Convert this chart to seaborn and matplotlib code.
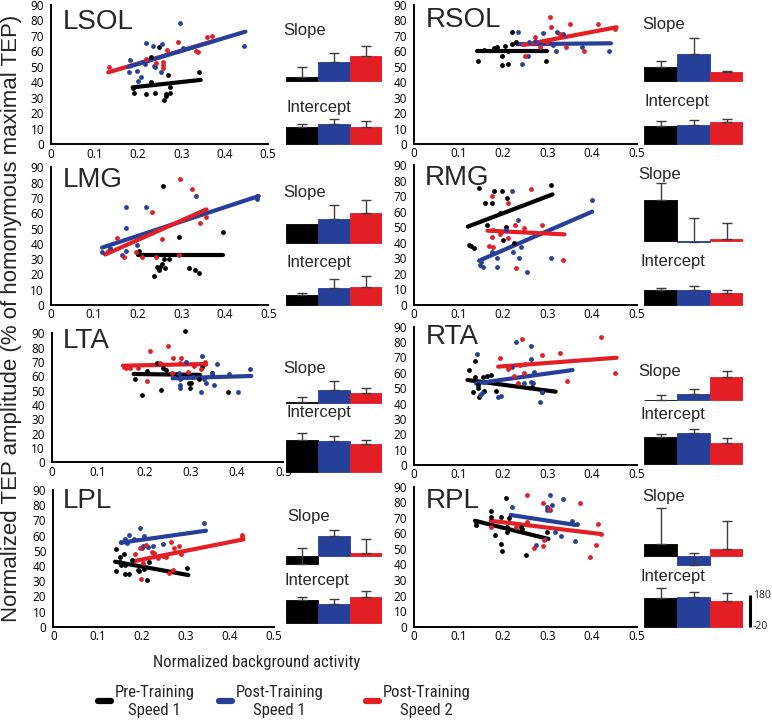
import numpy as np
import pandas as pd
import matplotlib
matplotlib.use('Agg')
import matplotlib.pyplot as plt
import seaborn as sns
from matplotlib import font_manager
from matplotlib.lines import Line2D

sns.set_style('white')
_names = {f.name for f in font_manager.fontManager.ttflist}
MAIN = 'Liberation Sans' if 'Liberation Sans' in _names else 'DejaVu Sans'
TICKF = 'Open Sans' if 'Open Sans' in _names else MAIN
NARROW = next((n for n in ['Liberation Sans Narrow', 'Roboto Condensed',
                           'Open Sans Condensed', 'Arial Narrow'] if n in _names), None)
plt.rcParams['font.family'] = [MAIN, 'DejaVu Sans']

# ---------------- data ----------------
GROUPS = ['Pre-Training Speed 1', 'Post-Training Speed 1', 'Post-Training Speed 2']
LEGEND_LABELS = ['Pre-Training\nSpeed 1', 'Post-Training\nSpeed 1', 'Post-Training\nSpeed 2']
COLORS = ['#000000', '#26409a', '#e41e25']
MUSCLES = ['LSOL', 'RSOL', 'LMG', 'RMG', 'LTA', 'RTA', 'LPL', 'RPL']
X_TICKS = [0, 0.1, 0.2, 0.3, 0.4, 0.5]
X_TICKLABELS = ['0', '0.1', '0.2', '0.3', '0.4', '0.5']
Y_TICKS = [0, 10, 20, 30, 40, 50, 60, 70, 80, 90]

LSOL_PRE = [(0.189, 36.2), (0.192, 33.4), (0.218, 32.3), (0.230, 56.2), (0.239, 32.9), (0.248, 63.1),
            (0.260, 28.6), (0.264, 31.2), (0.266, 32.3), (0.270, 44.8), (0.274, 33.4), (0.274, 36.8),
            (0.341, 46.5), (0.230, 40.5)]
LSOL_POST1 = [(0.182, 54.5), (0.180, 46.9), (0.199, 47.4), (0.201, 41.1), (0.207, 43.7), (0.220, 65.7),
              (0.234, 63.7), (0.237, 50.6), (0.239, 50.2), (0.255, 64.6), (0.254, 46.9), (0.297, 78.6),
              (0.303, 62.0), (0.445, 63.7), (0.217, 51.9)]
LSOL_POST2 = [(0.134, 50.2), (0.220, 54.9), (0.242, 52.8), (0.258, 53.4), (0.258, 51.2), (0.258, 49.1),
              (0.268, 60.9), (0.293, 66.1), (0.333, 60.5), (0.339, 59.9), (0.360, 69.6), (0.372, 70.2)]

RSOL_PRE = [(0.144, 54), (0.158, 61), (0.180, 62), (0.187, 63), (0.197, 57), (0.197, 51), (0.204, 63.5),
            (0.210, 52), (0.219, 65), (0.219, 72.4), (0.230, 66), (0.296, 54), (0.210, 60)]
RSOL_POST1 = [(0.234, 72.4), (0.242, 51.6), (0.255, 57), (0.259, 66), (0.272, 67), (0.283, 65),
              (0.313, 64), (0.318, 60), (0.320, 72.4), (0.334, 71), (0.377, 62.6), (0.438, 60.5),
              (0.290, 71.7)]
RSOL_POST2 = [(0.249, 57), (0.272, 69.5), (0.283, 63), (0.305, 82.5), (0.307, 75.6), (0.341, 63),
              (0.350, 77.8), (0.382, 60.5), (0.414, 77.8), (0.452, 74.3), (0.328, 71.3), (0.298, 66.3)]

LMG_PRE = [(0.202, 35.5), (0.237, 19), (0.245, 25), (0.251, 24.6), (0.255, 26.6), (0.260, 30),
           (0.263, 24), (0.272, 30), (0.258, 77.8), (0.295, 44.2), (0.318, 24), (0.332, 22.9),
           (0.341, 20.7), (0.395, 48), (0.248, 22.9)]
LMG_POST1 = [(0.119, 34.9), (0.137, 37.5), (0.172, 63.8), (0.174, 50.1), (0.172, 35.3), (0.164, 33),
             (0.198, 39.2), (0.218, 63.8), (0.333, 71.2), (0.475, 69), (0.475, 71)]
LMG_POST2 = [(0.131, 35.5), (0.152, 44), (0.168, 31.2), (0.195, 34.4), (0.210, 31.2), (0.233, 61),
             (0.241, 31.6), (0.256, 42.9), (0.297, 82.4), (0.325, 75.6), (0.343, 53.4), (0.356, 57.7),
             (0.295, 32.7)]

RMG_PRE = [(0.124, 38.6), (0.127, 37.9), (0.135, 36.9), (0.146, 75), (0.159, 65.4), (0.163, 51.4),
           (0.176, 65.8), (0.180, 73.3), (0.193, 59), (0.198, 73.3), (0.206, 50.4), (0.208, 69),
           (0.200, 41.8), (0.225, 39.6), (0.308, 77.1)]
RMG_POST1 = [(0.148, 25.7), (0.156, 24.2), (0.176, 34.3), (0.187, 30), (0.186, 24.2), (0.219, 73.5),
             (0.206, 48.2), (0.223, 34.3), (0.234, 54.6), (0.235, 30), (0.240, 37.5), (0.253, 21),
             (0.307, 30), (0.400, 67.5), (0.150, 27.9)]
RMG_POST2 = [(0.176, 70.3), (0.176, 43.5), (0.177, 48.2), (0.168, 37.9), (0.177, 37), (0.192, 45.6),
             (0.210, 65.4), (0.210, 42.9), (0.227, 51.2), (0.228, 23.6), (0.247, 49.3), (0.262, 74.6),
             (0.287, 51.2), (0.335, 28.9), (0.195, 46.7)]

LTA_PRE = [(0.179, 57.9), (0.195, 47), (0.205, 64), (0.228, 69.5), (0.237, 50.5), (0.240, 65.6),
           (0.246, 64.4), (0.270, 61.6), (0.287, 91.9), (0.297, 55.6), (0.298, 51.9), (0.300, 55.1),
           (0.318, 57.9), (0.324, 66.3), (0.346, 62), (0.380, 49.3)]
LTA_POST1 = [(0.274, 62), (0.276, 57.9), (0.277, 54), (0.277, 51.6), (0.290, 70.2), (0.325, 74.2),
             (0.323, 49.3), (0.328, 57.9), (0.333, 55.1), (0.346, 62), (0.350, 54), (0.357, 68.4),
             (0.382, 61.4), (0.403, 49.3), (0.428, 64.9), (0.306, 59.8)]
LTA_POST2 = [(0.157, 66.7), (0.161, 65.6), (0.169, 65.6), (0.187, 66), (0.212, 77.7), (0.205, 57),
             (0.234, 69.5), (0.251, 81), (0.261, 72.6), (0.259, 62.6), (0.280, 72.6), (0.295, 62.8),
             (0.308, 67.4), (0.323, 65), (0.330, 70.2), (0.330, 68.4), (0.277, 69)]

RTA_PRE = [(0.124, 61.8), (0.133, 47.7), (0.138, 67.7), (0.138, 57), (0.143, 49.9), (0.147, 44),
           (0.156, 57.5), (0.158, 48.4), (0.163, 57.9), (0.173, 58.6), (0.184, 48.4), (0.264, 51),
           (0.287, 47.7), (0.144, 52)]
RTA_POST1 = [(0.142, 72.2), (0.148, 45.6), (0.153, 46.6), (0.158, 54.2), (0.189, 44), (0.195, 44.9),
             (0.229, 80.3), (0.262, 77.7), (0.263, 68.8), (0.268, 53.1), (0.263, 53.8), (0.287, 47.7),
             (0.283, 41.2), (0.246, 53.1), (0.270, 60.7), (0.219, 64)]
RTA_POST2 = [(0.193, 69.8), (0.212, 62.5), (0.214, 63.6), (0.225, 57.9), (0.234, 53.6), (0.238, 65),
             (0.243, 81.8), (0.246, 59.7), (0.249, 65.5), (0.287, 71.6), (0.328, 73.1), (0.343, 54.9),
             (0.419, 83.1), (0.451, 60.1)]

LPL_PRE = [(0.142, 51.1), (0.143, 36.7), (0.150, 42.8), (0.151, 46.1), (0.154, 40.6), (0.161, 47.8),
           (0.162, 34.7), (0.171, 34.7), (0.178, 43.9), (0.192, 37.3), (0.195, 36.7), (0.206, 37.8),
           (0.213, 30.7), (0.217, 42.8), (0.302, 38.4), (0.162, 40.6)]
LPL_POST1 = [(0.153, 55.5), (0.162, 57.7), (0.172, 60.4), (0.182, 57.7), (0.196, 65.2), (0.200, 51.6),
             (0.206, 59.9), (0.204, 53.3), (0.215, 52.2), (0.225, 53.3), (0.249, 54.2), (0.342, 68),
             (0.166, 54.9)]
LPL_POST2 = [(0.185, 47.8), (0.196, 51.6), (0.198, 31.4), (0.204, 42.1), (0.210, 53.8), (0.223, 49.4),
             (0.228, 48.7), (0.238, 45), (0.249, 46.5), (0.255, 45.7), (0.266, 56), (0.274, 52),
             (0.272, 37.3), (0.284, 53.1), (0.290, 47.8), (0.261, 35.1), (0.427, 60.4), (0.428, 59.3)]

RPL_PRE = [(0.139, 65.4), (0.139, 67.5), (0.174, 74.4), (0.174, 70.3), (0.182, 58.9), (0.195, 70.7),
           (0.196, 52.9), (0.197, 48.6), (0.207, 82.5), (0.208, 61), (0.208, 64.3), (0.214, 70),
           (0.240, 64.3), (0.251, 46.1), (0.299, 61.1), (0.242, 62.6)]
RPL_POST1 = [(0.219, 76.7), (0.274, 52.5), (0.294, 56.1), (0.298, 75), (0.298, 77.1), (0.305, 84.6),
             (0.305, 75), (0.309, 78.2), (0.317, 61.1), (0.329, 58.3), (0.334, 81.9), (0.354, 67.9),
             (0.362, 55.3), (0.365, 65.8)]
RPL_POST2 = [(0.174, 63.9), (0.254, 84.6), (0.269, 50.8), (0.290, 79.3), (0.290, 52.1), (0.292, 55.7),
             (0.304, 75.4), (0.373, 79.7), (0.395, 45), (0.409, 52.5), (0.414, 65.8), (0.419, 59.6),
             (0.230, 64.3), (0.253, 67.5)]

# regression lines: (x start, y start, x end, y end) for pre, post1, post2
LSOL_FIT = [(0.188, 36.8, 0.345, 41.6), (0.178, 50.0, 0.448, 72.8), (0.132, 46.5, 0.372, 66.5)]
RSOL_FIT = [(0.142, 60.0, 0.298, 60.0), (0.232, 64.6, 0.442, 65.2), (0.245, 64.1, 0.455, 75.6)]
LMG_FIT = [(0.200, 33.0, 0.397, 33.0), (0.118, 37.5, 0.478, 71.2), (0.125, 33.0, 0.358, 62.5)]
RMG_FIT = [(0.121, 50.4, 0.311, 71.1), (0.146, 28.5, 0.400, 60.0), (0.165, 47.8, 0.338, 45.4)]
LTA_FIT = [(0.177, 61.6, 0.320, 61.0), (0.261, 58.6, 0.431, 60.2), (0.154, 67.4, 0.333, 68.6)]
RTA_FIT = [(0.120, 55.3, 0.318, 47.7), (0.139, 53.1, 0.356, 61.8), (0.189, 64.0, 0.455, 69.8)]
LPL_FIT = [(0.140, 42.8, 0.306, 34.0), (0.153, 55.3, 0.346, 63.2), (0.183, 43.2, 0.431, 57.5)]
RPL_FIT = [(0.137, 68.1, 0.302, 56.4), (0.217, 71.8, 0.363, 65.4), (0.172, 68.1, 0.419, 59.6)]

POINTS = {'LSOL': [LSOL_PRE, LSOL_POST1, LSOL_POST2], 'RSOL': [RSOL_PRE, RSOL_POST1, RSOL_POST2],
          'LMG': [LMG_PRE, LMG_POST1, LMG_POST2], 'RMG': [RMG_PRE, RMG_POST1, RMG_POST2],
          'LTA': [LTA_PRE, LTA_POST1, LTA_POST2], 'RTA': [RTA_PRE, RTA_POST1, RTA_POST2],
          'LPL': [LPL_PRE, LPL_POST1, LPL_POST2], 'RPL': [RPL_PRE, RPL_POST1, RPL_POST2]}
FITS = {'LSOL': LSOL_FIT, 'RSOL': RSOL_FIT, 'LMG': LMG_FIT, 'RMG': RMG_FIT,
        'LTA': LTA_FIT, 'RTA': RTA_FIT, 'LPL': LPL_FIT, 'RPL': RPL_FIT}

# bar values in scale-bar units (scale bar spans 200 units: -20 .. 180)
SLOPE = {'LSOL': [23, 118, 160], 'RSOL': [88, 170, 57], 'LMG': [118, 151, 185], 'RMG': [259, -4, 11],
         'LTA': [3, 78, 61], 'RTA': [3, 38, 147], 'LPL': [-50, 128, 17], 'RPL': [71, -59, 42]}
SLOPE_ERR = {'LSOL': [63, 61, 61], 'RSOL': [38, 101, 6], 'LMG': [0, 90, 85], 'RMG': [105, 148, 101],
             'LTA': [33, 61, 32], 'RTA': [30, 30, 38], 'LPL': [99, 36, 90], 'RPL': [233, 78, 179]}
INTERCEPT = {'LSOL': [109, 128, 109], 'RSOL': [114, 122, 141], 'LMG': [65, 109, 114], 'RMG': [95, 95, 78],
             'LTA': [200, 194, 175], 'RTA': [172, 194, 134], 'LPL': [143, 118, 164], 'RPL': [179, 185, 164]}
INTERCEPT_ERR = {'LSOL': [15, 30, 36], 'RSOL': [32, 30, 19], 'LMG': [9, 55, 68], 'RMG': [11, 25, 17],
                 'LTA': [42, 32, 23], 'RTA': [17, 25, 32], 'LPL': [16, 32, 36], 'RPL': [63, 32, 46]}
SCALE_BAR = (-20, 180)

# ---------------- layout (pixels) ----------------
W, H = 772, 720
fig = plt.figure(figsize=(W / 100, H / 100), dpi=100)
U = 200 / 31.7  # units per pixel in bar panels

# x at 0, x at 0.5, y at 90, y at 0
SC_BOX = {'LSOL': (51, 268, 5, 144.3), 'RSOL': (414, 636.7, 5, 144),
          'LMG': (50.7, 268.3, 167.3, 305), 'RMG': (414, 636.7, 165, 305),
          'LTA': (51.7, 283.3, 333.3, 462.3), 'RTA': (414, 636.7, 326.7, 465),
          'LPL': (53.3, 274, 490, 626.7), 'RPL': (414, 636.7, 486.7, 626.7)}
SIDE = {'LSOL': 'L', 'RSOL': 'R', 'LMG': 'L', 'RMG': 'R', 'LTA': 'L', 'RTA': 'R', 'LPL': 'L', 'RPL': 'R'}
BAR_X = {'L': (286, 382), 'R': (644, 743)}
SLOPE_BASE = {'LSOL': 81, 'RSOL': 81, 'LMG': 242.7, 'RMG': 241, 'LTA': 402.7, 'RTA': 400,
              'LPL': 556, 'RPL': 555.7}
INT_BASE = {'LSOL': 144, 'RSOL': 144, 'LMG': 305, 'RMG': 305, 'LTA': 471.7, 'RTA': 464,
            'LPL': 622.7, 'RPL': 626.7}
TITLE_POS = {'LSOL': (62.7, 29.3), 'RSOL': (426, 27.3), 'LMG': (62.7, 186.7), 'RMG': (425, 185),
             'LTA': (62.7, 348.3), 'RTA': (426, 344), 'LPL': (62.7, 508.3), 'RPL': (426, 508.3)}
SLOPE_LBL = {'LSOL': (283.3, 30.7), 'RSOL': (642, 25), 'LMG': (283, 192), 'RMG': (638, 174),
             'LTA': (283, 369), 'RTA': (638, 371.7), 'LPL': (287, 516.7), 'RPL': (642, 496.7)}
INT_LBL = {'LSOL': (286.7, 107.3), 'RSOL': (645, 101.7), 'LMG': (287, 263), 'RMG': (641, 261.7),
           'LTA': (287, 413), 'RTA': (641, 414.3), 'LPL': (285, 580), 'RPL': (640, 576.7)}


def px_axes(x0, x1, ytop, ybot):
    return fig.add_axes([x0 / W, 1 - ybot / H, (x1 - x0) / W, (ybot - ytop) / H])


def ftext(x, y, s, **kw):
    return fig.text(x / W, 1 - y / H, s, **kw)


# ---------------- scatter panels ----------------
for m in MUSCLES:
    x0, x5, y90, y0 = SC_BOX[m]
    ax = px_axes(x0, x5, y90, y0)
    ax.set_facecolor('none')
    order = [0, 2, 1] if m == 'LSOL' else [0, 1, 2]
    for z, gi in enumerate(order):
        fx0, fy0, fx1, fy1 = FITS[m][gi]
        ax.plot([fx0, fx1], [fy0, fy1], color=COLORS[gi], lw=3.0,
                solid_capstyle='round', zorder=2 + z * 0.1)
    for gi in range(3):
        pts = np.array(POINTS[m][gi])
        sns.scatterplot(x=pts[:, 0], y=pts[:, 1], color=COLORS[gi], s=12, linewidth=0,
                        ax=ax, zorder=3, clip_on=False)
    ax.set_xlim(0, 0.5)
    ax.set_ylim(0, 90)
    ax.set_xticks(X_TICKS)
    ax.set_xticklabels(X_TICKLABELS)
    ax.set_yticks(Y_TICKS)
    ax.set_xlabel('')
    ax.set_ylabel('')
    for lab in ax.get_xticklabels() + ax.get_yticklabels():
        lab.set_fontfamily(TICKF)
        lab.set_fontsize(8.5)
    ax.tick_params(axis='both', length=0, colors='black')
    ax.tick_params(axis='y', pad=5)
    ax.tick_params(axis='x', pad=2.5)
    sns.despine(ax=ax)
    for sp in ['left', 'bottom']:
        ax.spines[sp].set_linewidth(1.4)
        ax.spines[sp].set_color('black')
    tx, ty = TITLE_POS[m]
    ftext(tx, ty, m, fontsize=20, ha='left', va='baseline')

# ---------------- bar panels ----------------
for m in MUSCLES:
    bx0, bx1 = BAR_X[SIDE[m]]
    specs = [(SLOPE[m], SLOPE_ERR[m], SLOPE_BASE[m], 62, 15),
             (INTERCEPT[m], INTERCEPT_ERR[m], INT_BASE[m], 42, 3)]
    for k, (vals, errs, base, up, down) in enumerate(specs):
        ax = px_axes(bx0, bx1, base - up, base + down)
        df = pd.DataFrame({'group': GROUPS, 'value': vals})
        sns.barplot(data=df, x='group', y='value', hue='group', order=GROUPS, hue_order=GROUPS,
                    palette=dict(zip(GROUPS, COLORS)), width=1, saturation=1, legend=False,
                    errorbar=None, ax=ax)
        for p in ax.patches:
            p.set_edgecolor(p.get_facecolor())
            p.set_linewidth(0.6)
        idx = [i for i in range(3) if errs[i] > 0]
        ax.errorbar(idx, [vals[i] for i in idx],
                    yerr=[[0] * len(idx), [errs[i] for i in idx]],
                    fmt='none', ecolor='#3c3c3c', elinewidth=1.0, capsize=3.5, capthick=1.0,
                    zorder=5)
        ax.set_xlim(-0.5, 2.5)
        ax.set_ylim(-down * U, up * U)
        ax.axis('off')
        if m == 'RPL' and k == 1:
            lo, hi = SCALE_BAR
            ax.plot([2.72, 2.72], [0, hi - lo], color='black', lw=2.2, clip_on=False,
                    solid_capstyle='butt')
            ax.text(2.80, hi - lo, str(hi), fontsize=7.5, ha='left', va='center',
                    clip_on=False, family=TICKF)
            ax.text(2.80, 0, str(lo), fontsize=7.5, ha='left', va='center',
                    clip_on=False, family=TICKF)
    sx, sy = SLOPE_LBL[m]
    ftext(sx, sy, 'Slope', fontsize=12, ha='left', va='center')
    ix, iy = INT_LBL[m]
    ftext(ix, iy, 'Intercept', fontsize=12, ha='left', va='center')

# ---------------- axis titles ----------------
ftext(12, 318, 'Normalized TEP amplitude (% of homonymous maximal TEP)', rotation=90,
      fontsize=16, ha='center', va='center')
if NARROW:
    ftext(257, 663, 'Normalized background activity', fontsize=12, ha='center', va='center',
          family=NARROW)
    leg_font = dict(family=NARROW, size=12)
    hl, htp = 0.78, 0.22
else:
    ftext(257, 663, 'Normalized background activity', fontsize=10.5, ha='center', va='center')
    leg_font = dict(family=MAIN, size=9)
    hl, htp = 1.0, 0.3

# ---------------- legend ----------------
LEG_X = [98, 219, 366]
for gi in range(3):
    h = Line2D([0], [0], color=COLORS[gi], lw=4.5, solid_capstyle='round')
    leg = fig.legend(handles=[h], labels=[LEGEND_LABELS[gi]], loc='center left',
                     bbox_to_anchor=(LEG_X[gi] / W, 1 - 701 / H), frameon=False,
                     handlelength=hl, handletextpad=htp, borderpad=0, borderaxespad=0,
                     prop=leg_font)
    for t in leg.get_texts():
        t.set_multialignment('center')
        t.set_linespacing(1.25)

fig.savefig('out.png', dpi=100)
